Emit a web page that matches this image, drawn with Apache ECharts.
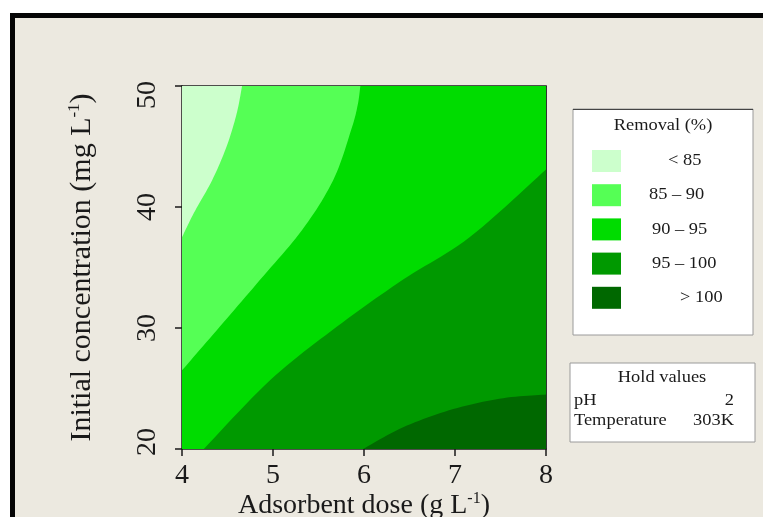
<!DOCTYPE html>
<html>
<head>
<meta charset="utf-8">
<script src="https://cdn.jsdelivr.net/npm/echarts@6/dist/echarts.min.js"></script>
<style>
  html, body { margin: 0; padding: 0; background: #ffffff; }
  #chart { width: 763px; height: 517px; }
</style>
</head>
<body>
<div id="chart"></div>
<script>
// Axis ranges and ticks
const xTicks = [4, 5, 6, 7, 8];
const yTicks = [20, 30, 40, 50];

// Removal (%) bands, lowest first
const levelLabels = ['< 85', '85 \u2013 90', '90 \u2013 95', '95 \u2013 100', '> 100'];
const levelColors = ['#ccffcc', '#55ff55', '#00dc00', '#009900', '#006800'];

// Contour boundaries (adsorbent dose, initial concentration)
const edge85 = [[4.66, 50], [4.60, 47.7], [4.49, 45.0], [4.33, 42.2], [4.13, 39.5], [4, 37.5]];
const edge90 = [[5.96, 50], [5.93, 48.4], [5.86, 46.4], [5.66, 42.2], [5.32, 38.1], [4.86, 34.0], [4.38, 29.8], [4, 26.5]];
const edge95 = [[8, 43.1], [7.16, 37.5], [6.43, 34.0], [5.70, 30.1], [4.97, 25.7], [4.24, 20]];
const edge100 = [[8, 24.5], [7.53, 24.2], [6.98, 23.3], [6.43, 21.8], [5.99, 20]];

// Hold values
const holdNames = ['pH', 'Temperature'];
const holdValues = ['2', '303K'];

// Each band region: its contour edge followed by the plot corners that close it
const xMin = xTicks[0], xMax = xTicks[xTicks.length - 1];
const yMin = yTicks[0], yMax = yTicks[yTicks.length - 1];
const regions = [
  { edge: [], corners: [[xMin, yMax], [xMin, yMin], [xMax, yMin], [xMax, yMax]] },
  { edge: edge85, corners: [[xMin, yMin], [xMax, yMin], [xMax, yMax]] },
  { edge: edge90, corners: [[xMin, yMin], [xMax, yMin], [xMax, yMax]] },
  { edge: edge95, corners: [[xMax, yMin]] },
  { edge: edge100, corners: [[xMax, yMin]] }
];

// Smooth a polyline (pixel space) with a Catmull-Rom spline
function smoothLine(pts, steps) {
  if (pts.length < 3) return pts.slice();
  const out = [];
  for (let i = 0; i < pts.length - 1; i++) {
    const p0 = pts[Math.max(i - 1, 0)], p1 = pts[i], p2 = pts[i + 1], p3 = pts[Math.min(i + 2, pts.length - 1)];
    for (let s = 0; s < steps; s++) {
      const t = s / steps, t2 = t * t, t3 = t2 * t;
      const f = function (a, b, c, d) {
        return 0.5 * ((2 * b) + (-a + c) * t + (2 * a - 5 * b + 4 * c - d) * t2 + (-a + 3 * b - 3 * c + d) * t3);
      };
      out.push([f(p0[0], p1[0], p2[0], p3[0]), f(p0[1], p1[1], p2[1], p3[1])]);
    }
  }
  out.push(pts[pts.length - 1]);
  return out;
}

const serif = '"Liberation Serif", "DejaVu Serif", serif';
const ink = '#1a1a1a';

const chart = echarts.init(document.getElementById('chart'), null, { renderer: 'canvas' });

function label(text, x, y, align, size) {
  return { type: 'text', x: x, y: y, scaleX: 1.15, z: 11,
    style: { text: text, font: (size || 16) + 'px ' + serif, fill: ink, align: align, verticalAlign: 'middle' } };
}

// Legend panel
const legendGraphics = [
  { type: 'rect', shape: { x: 573, y: 109, width: 180, height: 226 },
    style: { fill: '#ffffff', stroke: '#9a9a9a', lineWidth: 1 }, z: 10 },
  { type: 'line', shape: { x1: 573, y1: 109.5, x2: 753, y2: 109.5 },
    style: { stroke: '#444', lineWidth: 1 }, z: 11 },
  label('Removal (%)', 663, 126, 'center')
];
const legendTextX = [668, 649, 652, 652, 680];
levelLabels.forEach(function (lab, i) {
  const cy = 161 + i * 34.2;
  legendGraphics.push({ type: 'rect', shape: { x: 592, y: cy - 11, width: 29, height: 22 },
    style: { fill: levelColors[i] }, z: 11 });
  legendGraphics.push(label(lab, legendTextX[i], cy, 'left'));
});

// Hold values panel
const holdGraphics = [
  { type: 'rect', shape: { x: 570, y: 363, width: 185, height: 79 },
    style: { fill: '#ffffff', stroke: '#9a9a9a', lineWidth: 1 }, z: 10 },
  label('Hold values', 662, 378, 'center')
];
holdNames.forEach(function (nm, i) {
  const cy = 401 + i * 20;
  holdGraphics.push(label(nm, 574, cy, 'left'));
  holdGraphics.push(label(holdValues[i], 734, cy, 'right'));
});

const option = {
  animation: false,
  backgroundColor: '#ffffff',
  graphic: [
    { type: 'rect', shape: { x: 12.5, y: 15.5, width: 800, height: 600 },
      style: { fill: '#ece9e0', stroke: '#050505', lineWidth: 5 }, z: -10 }
  ].concat(legendGraphics, holdGraphics),
  grid: { left: 182, right: 217, top: 86, bottom: 68, outerBoundsMode: 'none' },
  xAxis: [{
    type: 'value', min: xMin, max: xMax, interval: 1,
    name: 'Adsorbent dose (g L{sup|-1})',
    nameLocation: 'middle', nameGap: 42, nameMoveOverlap: false,
    nameTextStyle: { fontFamily: serif, fontSize: 28, color: ink,
      rich: { sup: { fontFamily: serif, fontSize: 16, color: ink, verticalAlign: 'top', padding: [0, 0, 14, 0] } } },
    axisLine: { onZero: false, lineStyle: { color: ink, width: 1.5 } },
    axisTick: { show: true, length: 7, lineStyle: { color: ink, width: 1.5 } },
    axisLabel: { fontFamily: serif, fontSize: 28, color: ink, margin: 13 },
    splitLine: { show: false }
  }, {
    type: 'value', min: xMin, max: xMax, position: 'top',
    axisLine: { onZero: false, lineStyle: { color: ink, width: 1.5 } },
    axisTick: { show: false }, axisLabel: { show: false }, splitLine: { show: false }
  }],
  yAxis: [{
    type: 'value', min: yMin, max: yMax, interval: 10,
    name: 'Initial concentration (mg L{sup|-1})',
    nameLocation: 'middle', nameGap: 84, nameRotate: 90,
    nameTextStyle: { fontFamily: serif, fontSize: 30, color: ink,
      rich: { sup: { fontFamily: serif, fontSize: 17, color: ink, verticalAlign: 'top', padding: [0, 0, 15, 0] } } },
    axisLine: { onZero: false, lineStyle: { color: ink, width: 1.5 } },
    axisTick: { show: true, length: 7, lineStyle: { color: ink, width: 1.5 } },
    axisLabel: {
      fontFamily: serif, fontSize: 28, color: ink, rotate: 90, margin: 20,
      // end labels sit slightly inside the axis range
      formatter: function (v) {
        if (v === yMax) return '{hi|' + v + '}';
        if (v === yMin) return '{lo|' + v + '}';
        return String(v);
      },
      rich: {
        hi: { fontFamily: serif, fontSize: 28, color: ink, padding: [0, 18, 0, 0] },
        lo: { fontFamily: serif, fontSize: 28, color: ink, padding: [0, 0, 0, 14] }
      }
    },
    splitLine: { show: false }
  }, {
    type: 'value', min: yMin, max: yMax, position: 'right',
    axisLine: { onZero: false, lineStyle: { color: '#333', width: 1 } },
    axisTick: { show: false }, axisLabel: { show: false }, splitLine: { show: false }
  }],
  series: [{
    type: 'custom',
    coordinateSystem: 'cartesian2d',
    xAxisIndex: 0, yAxisIndex: 0,
    clip: true,
    encode: { x: 0, y: 1 },
    data: regions.map(function (r, i) {
      const p = r.edge.length ? r.edge[0] : r.corners[0];
      return [p[0], p[1], i];
    }),
    renderItem: function (params, api) {
      const idx = api.value(2);
      const reg = regions[idx];
      const edgePx = smoothLine(reg.edge.map(function (p) { return api.coord(p); }), 12);
      const pts = edgePx.concat(reg.corners.map(function (p) { return api.coord(p); }));
      return { type: 'polygon', shape: { points: pts }, style: { fill: levelColors[idx] } };
    },
    z: 1
  }]
};

chart.setOption(option);
</script>
</body>
</html>
